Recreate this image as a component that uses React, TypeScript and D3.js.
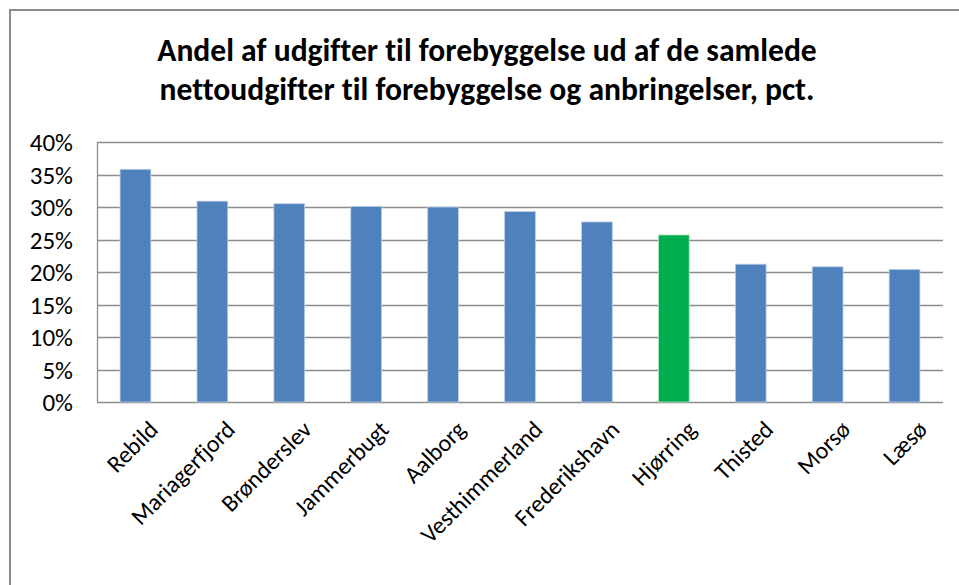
import React, { useEffect, useRef } from "react";
import * as d3 from "d3";

const municipalities = [
    "Rebild", "Mariagerfjord", "Brønderslev", "Jammerbugt", "Aalborg",
    "Vesthimmerland", "Frederikshavn", "Hjørring", "Thisted", "Morsø", "Læsø"
];
const shares = [0.358, 0.309, 0.305, 0.301, 0.300, 0.293, 0.277, 0.257, 0.212, 0.208, 0.204];
const highlighted = ["Hjørring"];
const yTicks = [0, 0.05, 0.1, 0.15, 0.2, 0.25, 0.3, 0.35, 0.4];
const titleLines = [
    "Andel af udgifter til forebyggelse ud af de samlede",
    "nettoudgifter til forebyggelse og anbringelser, pct."
];

function App() {
    const chart = useRef<SVGSVGElement | null>(null);

    useEffect(() => {
        const width = 959;
        const height = 585;
        const margin = { top: 142, right: 16, bottom: 183, left: 97 };
        const font = "Carlito, Calibri, Lato, sans-serif";

        const svg = d3.select(chart.current)
            .attr("width", width)
            .attr("height", height)
            .style("font-variant-ligatures", "none");

        svg.append("rect")
            .attr("width", width)
            .attr("height", height)
            .attr("fill", "#fff");

        // outer chart frame (cut off at right / bottom)
        svg.append("path")
            .attr("d", `M10,${height + 5} L10,10 L${width + 5},10`)
            .attr("fill", "none")
            .attr("stroke", "#8c8c8c")
            .attr("stroke-width", 2);

        // title
        svg.append("g")
            .selectAll("text")
            .data(titleLines)
            .enter()
            .append("text")
            .attr("x", 487)
            .attr("y", (d, i) => 61 + i * 39)
            .attr("text-anchor", "middle")
            .attr("font-family", font)
            .attr("font-weight", "bold")
            .attr("font-size", 31.6)
            .attr("fill", "#000")
            .text(d => d);

        const x = d3.scaleBand()
            .domain(municipalities)
            .range([margin.left, width - margin.right])
            .paddingInner(0.6)
            .paddingOuter(0.3);

        const y = d3.scaleLinear()
            .domain([0, 0.4])
            .range([height - margin.bottom, margin.top]);

        // gridlines
        svg.append("g")
            .selectAll("line")
            .data(yTicks)
            .enter()
            .append("line")
            .attr("x1", margin.left)
            .attr("x2", width - margin.right)
            .attr("y1", d => Math.round(y(d)) + 0.5)
            .attr("y2", d => Math.round(y(d)) + 0.5)
            .attr("stroke", "#8c8c8c")
            .attr("stroke-width", 1.3);

        // left axis line
        svg.append("line")
            .attr("x1", margin.left + 0.5)
            .attr("x2", margin.left + 0.5)
            .attr("y1", y(0.4))
            .attr("y2", y(0))
            .attr("stroke", "#8c8c8c")
            .attr("stroke-width", 1.3);

        // y tick labels
        svg.append("g")
            .selectAll("text")
            .data(yTicks)
            .enter()
            .append("text")
            .attr("x", 73)
            .attr("y", d => y(d))
            .attr("dy", "0.36em")
            .attr("text-anchor", "end")
            .attr("font-family", font)
            .attr("font-size", 25)
            .attr("fill", "#000")
            .text(d => d3.format(".0%")(d));

        // bars
        svg.append("g")
            .selectAll("rect")
            .data(municipalities)
            .enter()
            .append("rect")
            .attr("x", d => x(d) as number)
            .attr("y", (d, i) => y(shares[i]))
            .attr("width", x.bandwidth())
            .attr("height", (d, i) => y(0) - y(shares[i]))
            .attr("fill", d => highlighted.includes(d) ? "#00ad4e" : "#4f81bd")
            .attr("stroke", d => highlighted.includes(d) ? "#b8e6c8" : "#b9cde5")
            .attr("stroke-width", 0.8);

        // category labels, rotated
        svg.append("g")
            .selectAll("text")
            .data(municipalities)
            .enter()
            .append("text")
            .attr("transform", d => `translate(${(x(d) as number) + x.bandwidth() / 2 + 24},${y(0) + 29}) rotate(-45)`)
            .attr("text-anchor", "end")
            .attr("font-family", font)
            .attr("font-size", 24)
            .attr("fill", "#000")
            .text(d => d);

        return () => {
            svg.selectAll("*").remove();
        };
    }, []);

    return (
        <svg ref={chart} style={{ position: "absolute", left: 0, top: 0 }}></svg>
    );
}

export default App;
